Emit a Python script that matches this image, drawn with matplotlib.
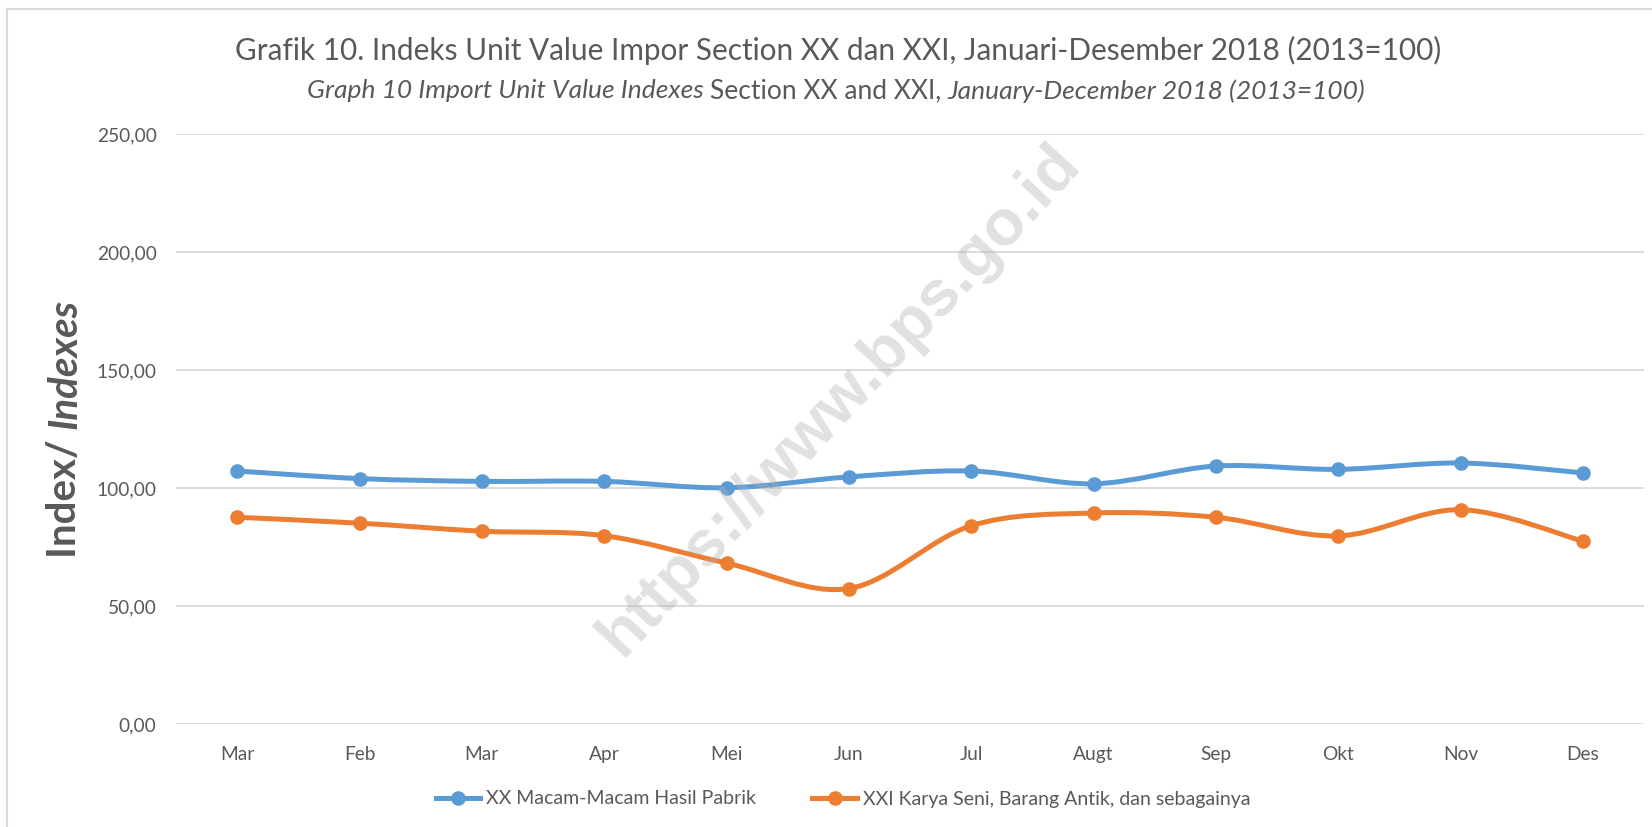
import matplotlib
matplotlib.use("Agg")
import matplotlib.pyplot as plt
from matplotlib.path import Path
from matplotlib.patches import PathPatch
from matplotlib.lines import Line2D

months = ["Mar", "Feb", "Mar", "Apr", "Mei", "Jun", "Jul", "Augt", "Sep", "Okt", "Nov", "Des"]
xx_values = [107.2, 104.0, 102.8, 102.8, 100.1, 104.7, 107.2, 101.8, 109.3, 107.9, 110.6, 106.4]
xxi_values = [87.6, 85.1, 81.7, 79.8, 68.2, 57.4, 84.0, 89.4, 87.6, 79.7, 90.8, 77.5]
series_names = ["XX Macam-Macam Hasil Pabrik", "XXI Karya Seni, Barang Antik, dan sebagainya"]
yticks = [0, 50, 100, 150, 200, 250]

blue = "#5B9BD5"
orange = "#ED7D31"
grey = "#595959"
FONT = "Lato"
plt.rcParams["font.family"] = [FONT, "DejaVu Sans"]


def smooth_path(xs, ys):
    # Excel-like smoothed line: cubic bezier segments through the points
    pts = list(zip(xs, ys))
    n = len(pts)
    verts = [pts[0]]
    codes = [Path.MOVETO]
    for i in range(n - 1):
        p0 = pts[i - 1] if i > 0 else pts[i]
        p1 = pts[i]
        p2 = pts[i + 1]
        p3 = pts[i + 2] if i + 2 < n else pts[i + 1]
        c1 = (p1[0] + (p2[0] - p0[0]) / 6, p1[1] + (p2[1] - p0[1]) / 6)
        c2 = (p2[0] - (p3[0] - p1[0]) / 6, p2[1] - (p3[1] - p1[1]) / 6)
        verts += [c1, c2, p2]
        codes += [Path.CURVE4] * 3
    return Path(verts, codes)


W, H = 1652, 827
fig = plt.figure(figsize=(W / 100, H / 100), dpi=100)
ax = fig.add_axes([176 / W, 1 - 724 / H, 1468 / W, 590 / H])

x = list(range(len(months)))
for vals, col in [(xx_values, blue), (xxi_values, orange)]:
    ax.add_patch(PathPatch(smooth_path(x, vals), fill=False, edgecolor=col,
                           lw=3.6, capstyle="round", joinstyle="round", zorder=3))
    ax.plot(x, vals, "o", color=col, markersize=9.5, zorder=4)

ax.set_xlim(-0.5, len(months) - 0.5)
ax.set_ylim(0, 250)
ax.set_yticks(yticks)
ax.set_yticklabels([f"{v:.2f}".replace(".", ",") for v in yticks])
ax.set_xticks(x)
ax.set_xticklabels(months)
ax.tick_params(axis="both", length=0, labelsize=13.8, colors=grey)
ax.tick_params(axis="y", pad=14)
ax.tick_params(axis="x", pad=16)
ax.grid(axis="y", color="#D9D9D9", lw=1.3)
ax.set_axisbelow(True)
for s in ax.spines.values():
    s.set_visible(False)

# titles
fig.text(838 / W, 1 - 50 / H, "Grafik 10. Indeks Unit Value Impor Section XX dan XXI, Januari-Desember 2018 (2013=100)",
         ha="center", va="center", fontsize=21.4, color=grey)
sub_y = 1 - 91 / H
t_a = fig.text(307 / W, sub_y, "Graph 10 Import Unit Value Indexes ", ha="left", va="center",
               fontsize=19, style="italic", color=grey)
t_b = ax.annotate("Section XX and XXI, ", xy=(1, 0.5), xycoords=t_a, ha="left", va="center",
                  fontsize=19, color=grey)
ax.annotate("January-December 2018 (2013=100)", xy=(1, 0.5), xycoords=t_b, ha="left", va="center",
            fontsize=19, style="italic", color=grey)

# y label
yl1 = fig.text(65 / W, 1 - 558 / H, "Index/ ", rotation=90, ha="center", va="bottom",
               fontsize=29, fontweight="bold", color=grey)
ax.annotate("Indexes", xy=(0.5, 1), xycoords=yl1, rotation=90, ha="center", va="bottom",
            fontsize=29, fontweight="bold", style="italic", color=grey)

# watermark
fig.text(840 / W, 1 - 400 / H, "https://www.bps.go.id", rotation=47, ha="center", va="center",
         fontsize=47, fontweight="bold", family="Liberation Sans", color="#B0B0B0", alpha=0.38, zorder=10)

# legend
handles = [Line2D([], [], color=c, lw=3.6, marker="o", markersize=9.5) for c in (blue, orange)]
fig.legend(handles, series_names, loc="center", bbox_to_anchor=(843 / W, 1 - 799 / H), ncol=2,
           frameon=False, fontsize=14, labelcolor=grey, handlelength=2.3, handletextpad=0.3,
           columnspacing=2.9)

# chart border
fig.add_artist(Line2D([7 / W, 7 / W], [0, 1 - 9 / H], transform=fig.transFigure, color="#D9D9D9", lw=1.5))
fig.add_artist(Line2D([7 / W, 1], [1 - 9 / H, 1 - 9 / H], transform=fig.transFigure, color="#D9D9D9", lw=1.5))

fig.savefig("out.png", dpi=100)
